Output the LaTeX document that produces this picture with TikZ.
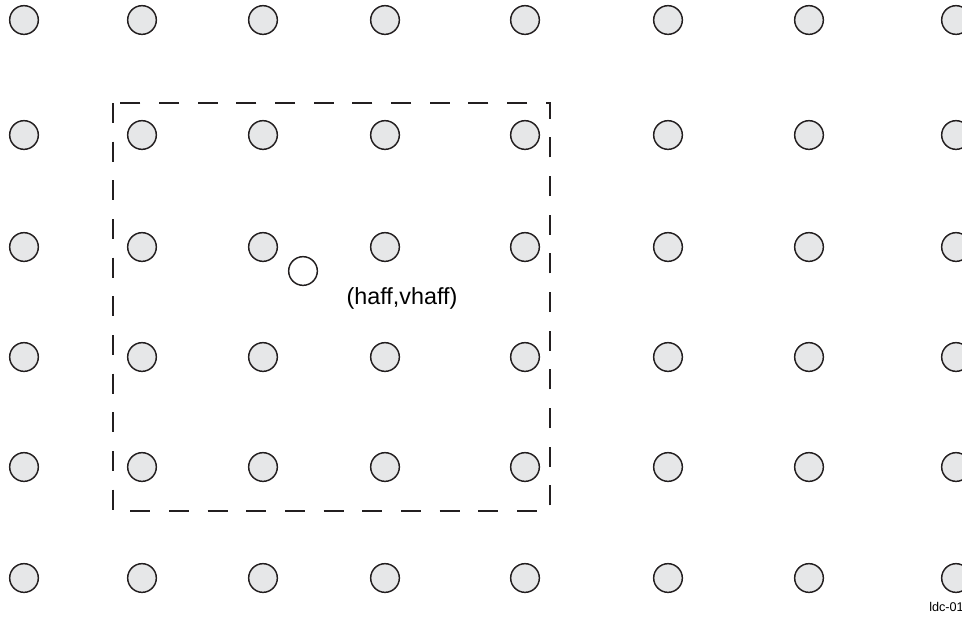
\documentclass[tikz,border=0pt]{standalone}
\usepackage{fontspec}
\setmainfont{Liberation Sans}
\definecolor{pingray}{RGB}{230,231,232}
\definecolor{pinline}{RGB}{35,31,32}

\begin{document}
\begin{tikzpicture}[x=0.75pt,y=-0.75pt,
  pin/.style={circle,draw=pinline,fill=pingray,line width=1.1pt,
    minimum size=21.5pt,inner sep=0pt},
  halfpin/.style={pin,fill=white},
  window/.style={draw=pinline,line width=1.1pt,dash pattern=on 15pt off 14pt}]
  \useasboundingbox (0,0) rectangle (962,619);
  % grid of pins
  \foreach \x [count=\i] in {24,142,263,385,525,668,809,956}
    \foreach \y [count=\j] in {20,135,247,357,467,578}
      \node[pin] (p\i-\j) at (\x,\y) {};
  % the window
  \coordinate (wa) at (113,103);
  \coordinate (wb) at (550,511);
  \draw[window] (wa) rectangle (wb);
  % half offset point
  \node[halfpin] (haff) at (303,271) {};
  \node[font=\fontsize{17.5}{20}\selectfont] (hlabel) at (402,298) {(haff,vhaff)};
  \node[font=\fontsize{9.5}{11}\selectfont,anchor=west,inner sep=0pt] (tag) at (929,607) {ldc-01};
\end{tikzpicture}
\end{document}
